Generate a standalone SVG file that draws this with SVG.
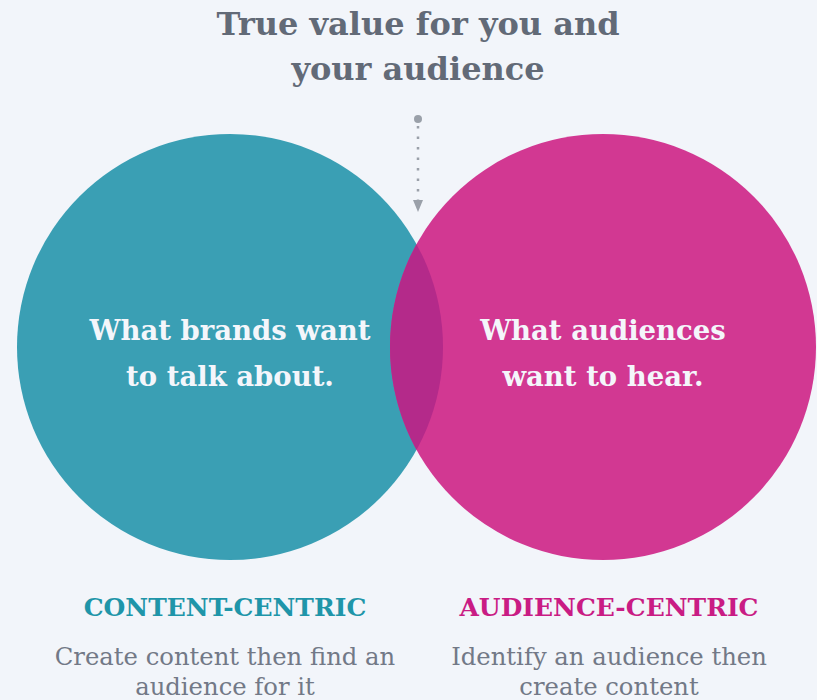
<svg xmlns="http://www.w3.org/2000/svg" width="817" height="700" viewBox="0 0 817 700">
<style>
.title{font-family:"DejaVu Serif","Liberation Serif",serif;font-weight:bold;font-size:32px;fill:#626a77;text-anchor:middle}
.inner{font-family:"DejaVu Serif","Liberation Serif",serif;font-weight:bold;font-size:27.5px;fill:#f4f6fb;text-anchor:middle}
.head{font-family:"DejaVu Serif","Liberation Serif",serif;font-weight:bold;font-size:25px;text-anchor:middle}
.desc{font-family:"DejaVu Serif","Liberation Serif",serif;font-weight:normal;font-size:24.3px;fill:#727987;text-anchor:middle}
</style>
<defs>
<clipPath id="leftClip"><circle cx="230" cy="347" r="213"/></clipPath>
</defs>
<rect width="817" height="700" fill="#f2f5fa"/>
<g id="title">
<text class="title" x="418" y="35">True value for you and</text>
<text class="title" x="418" y="80">your audience</text>
</g>
<g id="left-circle">
<circle cx="230" cy="347" r="213" fill="#3a9fb4"/>
</g>
<g id="right-circle">
<circle cx="603" cy="347" r="213" fill="#d23892"/>
<circle cx="603" cy="347" r="213" fill="#b42a8a" clip-path="url(#leftClip)"/>
</g>
<g id="connectors">
<circle cx="418" cy="119" r="4" fill="#9aa0a9"/>
<line x1="418" y1="126" x2="418" y2="201" stroke="#9aa0a9" stroke-width="2.5" stroke-dasharray="2.5,8"/>
<path d="M413,200 L423,200 L418,212 Z" fill="#9aa0a9"/>
</g>
<g id="left-label">
<text class="inner" x="230" y="340">What brands want</text>
<text class="inner" x="230" y="386">to talk about.</text>
</g>
<g id="right-label">
<text class="inner" x="603" y="340">What audiences</text>
<text class="inner" x="603" y="386">want to hear.</text>
</g>
<g id="content-centric">
<text class="head" x="225" y="616" fill="#1f95a9">CONTENT-CENTRIC</text>
<text class="desc" x="225" y="665">Create content then find an</text>
<text class="desc" x="225" y="695">audience for it</text>
</g>
<g id="audience-centric">
<text class="head" x="609" y="616" fill="#c91c84">AUDIENCE-CENTRIC</text>
<text class="desc" x="609" y="665">Identify an audience then</text>
<text class="desc" x="609" y="695">create content</text>
</g>
</svg>
